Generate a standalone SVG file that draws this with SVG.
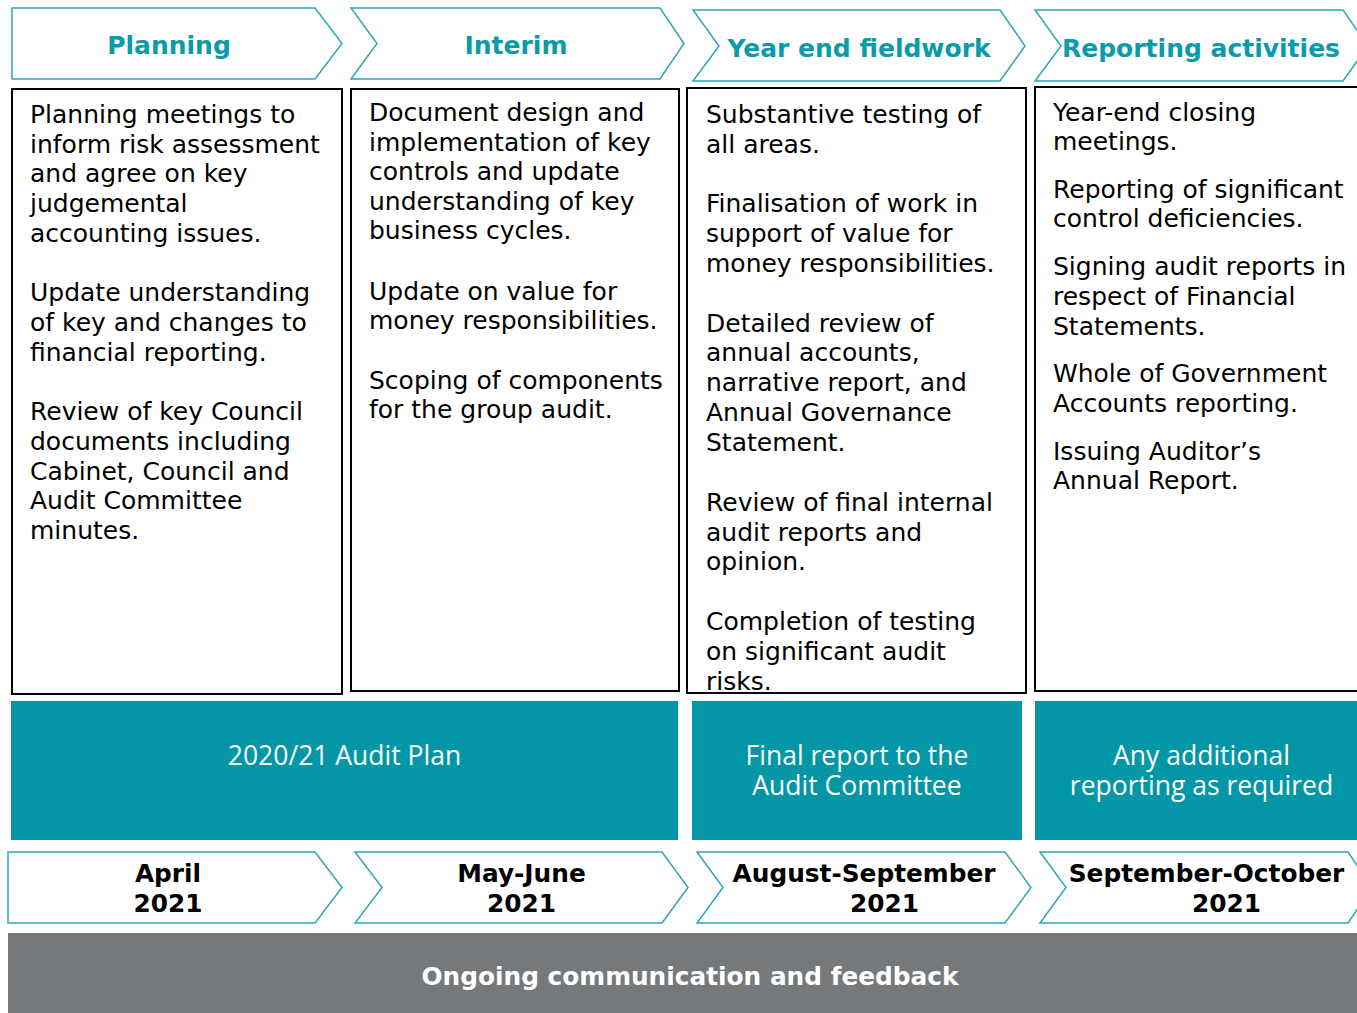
<svg xmlns="http://www.w3.org/2000/svg" width="1357" height="1013" viewBox="0 0 1357 1013">
  <style>
    .chev { fill: #ffffff; stroke: #2AA8B6; stroke-width: 1.5; }
    .box { fill: #ffffff; stroke: #000000; stroke-width: 2; }
    .band { fill: #0396A6; }
    .head { font-family: "DejaVu Sans", Verdana, sans-serif; font-weight: bold; font-size: 25px; fill: #0A9BAA; text-anchor: middle; }
    .body { font-family: "DejaVu Sans", Verdana, sans-serif; font-size: 25px; fill: #000000; }
    .band-text { font-family: "Open Sans", "DejaVu Sans", sans-serif; font-size: 26.5px; fill: #ffffff; text-anchor: middle; }
    .date { font-family: "DejaVu Sans", Verdana, sans-serif; font-weight: bold; font-size: 24.8px; fill: #000000; text-anchor: middle; }
    .foot { font-family: "DejaVu Sans", Verdana, sans-serif; font-weight: bold; font-size: 24.8px; fill: #ffffff; text-anchor: middle; }
  </style>

  <rect x="0" y="0" width="1357" height="1013" fill="#ffffff"/>

  <!-- phase headers -->
  <g id="phase-planning">
    <path class="chev" d="M12,8 H315 L342,43.5 L315,79 H12 Z"/>
    <text class="head" x="169" y="54">Planning</text>
  </g>
  <g id="phase-interim">
    <path class="chev" d="M351,8 H660 L684,43.5 L660,79 H351 L377,43.5 Z"/>
    <text class="head" x="516" y="54">Interim</text>
  </g>
  <g id="phase-yearend">
    <path class="chev" d="M693,10 H1000 L1025,46 L1000,81 H693 L719,46 Z"/>
    <text class="head" x="859" y="57">Year end fieldwork</text>
  </g>
  <g id="phase-reporting">
    <path class="chev" d="M1035,10 H1343 L1368,46 L1343,81 H1035 L1061,46 Z"/>
    <text class="head" x="1201" y="57">Reporting activities</text>
  </g>

  <!-- activity lists -->
  <g id="tasks-planning">
    <rect class="box" x="12" y="89" width="330" height="605"/>
    <text class="body">
      <tspan x="30" y="123">Planning meetings to</tspan>
      <tspan x="30" y="153">inform risk assessment</tspan>
      <tspan x="30" y="182">and agree on key</tspan>
      <tspan x="30" y="212">judgemental</tspan>
      <tspan x="30" y="242">accounting issues.</tspan>
      <tspan x="30" y="301">Update understanding</tspan>
      <tspan x="30" y="331">of key and changes to</tspan>
      <tspan x="30" y="361">financial reporting.</tspan>
      <tspan x="30" y="420">Review of key Council</tspan>
      <tspan x="30" y="450">documents including</tspan>
      <tspan x="30" y="480">Cabinet, Council and</tspan>
      <tspan x="30" y="509">Audit Committee</tspan>
      <tspan x="30" y="539">minutes.</tspan>
    </text>
  </g>
  <g id="tasks-interim">
    <rect class="box" x="351" y="89" width="328" height="602"/>
    <text class="body">
      <tspan x="369" y="121">Document design and</tspan>
      <tspan x="369" y="151">implementation of key</tspan>
      <tspan x="369" y="180">controls and update</tspan>
      <tspan x="369" y="210">understanding of key</tspan>
      <tspan x="369" y="239">business cycles.</tspan>
      <tspan x="369" y="300">Update on value for</tspan>
      <tspan x="369" y="329">money responsibilities.</tspan>
      <tspan x="369" y="389">Scoping of components</tspan>
      <tspan x="369" y="418">for the group audit.</tspan>
    </text>
  </g>
  <g id="tasks-yearend">
    <rect class="box" x="687" y="88" width="339" height="605"/>
    <text class="body">
      <tspan x="706" y="123">Substantive testing of</tspan>
      <tspan x="706" y="153">all areas.</tspan>
      <tspan x="706" y="212">Finalisation of work in</tspan>
      <tspan x="706" y="242">support of value for</tspan>
      <tspan x="706" y="272">money responsibilities.</tspan>
      <tspan x="706" y="332">Detailed review of</tspan>
      <tspan x="706" y="361">annual accounts,</tspan>
      <tspan x="706" y="391">narrative report, and</tspan>
      <tspan x="706" y="421">Annual Governance</tspan>
      <tspan x="706" y="451">Statement.</tspan>
      <tspan x="706" y="511">Review of final internal</tspan>
      <tspan x="706" y="541">audit reports and</tspan>
      <tspan x="706" y="570">opinion.</tspan>
      <tspan x="706" y="630">Completion of testing</tspan>
      <tspan x="706" y="660">on significant audit</tspan>
      <tspan x="706" y="690">risks.</tspan>
    </text>
  </g>
  <g id="tasks-reporting">
    <rect class="box" x="1035" y="87" width="330" height="604"/>
    <text class="body">
      <tspan x="1053" y="121">Year-end closing</tspan>
      <tspan x="1053" y="150">meetings.</tspan>
      <tspan x="1053" y="198">Reporting of significant</tspan>
      <tspan x="1053" y="227">control deficiencies.</tspan>
      <tspan x="1053" y="275">Signing audit reports in</tspan>
      <tspan x="1053" y="305">respect of Financial</tspan>
      <tspan x="1053" y="335">Statements.</tspan>
      <tspan x="1053" y="382">Whole of Government</tspan>
      <tspan x="1053" y="412">Accounts reporting.</tspan>
      <tspan x="1053" y="460">Issuing Auditor’s</tspan>
      <tspan x="1053" y="489">Annual Report.</tspan>
    </text>
  </g>

  <!-- deliverables -->
  <g id="output-plan">
    <rect class="band" x="11" y="701" width="667" height="139"/>
    <text class="band-text" x="344.5" y="765">2020/21 Audit Plan</text>
  </g>
  <g id="output-final">
    <rect class="band" x="692" y="701" width="330" height="139"/>
    <text class="band-text"><tspan x="857" y="765">Final report to the</tspan><tspan x="857" y="795">Audit Committee</tspan></text>
  </g>
  <g id="output-additional">
    <rect class="band" x="1035" y="701" width="330" height="139"/>
    <text class="band-text"><tspan x="1201.5" y="765">Any additional</tspan><tspan x="1201.5" y="795">reporting as required</tspan></text>
  </g>

  <!-- timing -->
  <g id="when-april">
    <path class="chev" d="M8,852 H315 L342,887.5 L315,923 H8 Z"/>
    <text class="date"><tspan x="168" y="882">April</tspan><tspan x="168" y="912">2021</tspan></text>
  </g>
  <g id="when-mayjune">
    <path class="chev" d="M355,852 H662 L688,887.5 L662,923 H355 L382,887.5 Z"/>
    <text class="date"><tspan x="521.5" y="882">May-June</tspan><tspan x="521.5" y="912">2021</tspan></text>
  </g>
  <g id="when-augsep">
    <path class="chev" d="M697,852 H1005 L1031,887.5 L1005,923 H697 L723,887.5 Z"/>
    <text class="date"><tspan x="864" y="882">August-September</tspan><tspan x="884.5" y="912">2021</tspan></text>
  </g>
  <g id="when-sepoct">
    <path class="chev" d="M1040,852 H1348 L1372,887.5 L1348,923 H1040 L1066,887.5 Z"/>
    <text class="date"><tspan x="1206.5" y="882">September-October</tspan><tspan x="1226.5" y="912">2021</tspan></text>
  </g>

  <!-- ongoing band -->
  <g id="ongoing">
    <rect x="8" y="933" width="1360" height="80" fill="#76797C"/>
    <text class="foot" x="690" y="985">Ongoing communication and feedback</text>
  </g>

  <!-- no connectors between stages -->
  <g id="connectors"/>
</svg>
